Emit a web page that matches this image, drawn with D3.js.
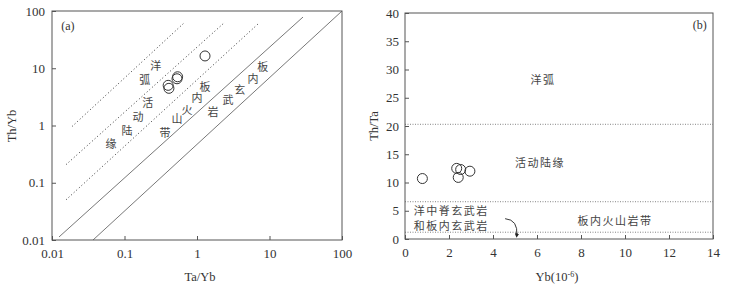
<!DOCTYPE html>
<html>
<head>
<meta charset="utf-8">
<script src="https://cdn.jsdelivr.net/npm/d3@7"></script>
<style>
  body { margin: 0; background: #fff; }
  text { font-family: "Liberation Serif", "Times New Roman", serif; fill: #333; }
</style>
</head>
<body>
<svg id="chart" width="733" height="287"></svg>
<script>
// panel (a): Th/Yb vs Ta/Yb
var taYb = [1.29, 0.54, 0.53, 0.41, 0.40];
var thYb = [16.4, 7.1, 6.55, 4.46, 5.03];
var logTicks = [0.01, 0.1, 1, 10, 100];
var logTickLabels = ["0.01", "0.1", "1", "10", "100"];
var solidLines = [
    [[0.0125, 0.0113], [29, 78.5]],
    [[0.0368, 0.01], [100, 100]]
];
var dottedLines = [
    [[0.0189, 0.96], [0.66, 61.5]],
    [[0.0156, 0.207], [2.43, 64]],
    [[0.0156, 0.0503], [7.16, 61.5]]
];
// labels along the field boundaries [x, y, text]
var labelsA = [
    [0.27, 11.3, "洋"], [0.19, 6.4, "弧"], [0.21, 2.6, "活"],
    [0.154, 1.44, "动"], [0.108, 0.82, "陆"], [0.065, 0.50, "缘"],
    [1.29, 4.83, "板"], [1.0, 3.1, "内"], [0.73, 1.91, "火"],
    [0.53, 1.33, "山"], [0.362, 0.785, "带"],
    [8.1, 10.8, "板"], [5.9, 6.7, "内"], [3.9, 4.3, "玄"],
    [2.68, 2.86, "武"], [1.66, 1.76, "岩"]
];

// panel (b): Th/Ta vs Yb
var yb = [0.79, 2.35, 2.53, 2.95, 2.42];
var thTa = [10.7, 12.5, 12.3, 12.0, 10.9];
var ybTicks = [0, 2, 4, 6, 8, 10, 12, 14];
var thTaTicks = [0, 5, 10, 15, 20, 25, 30, 35, 40];
var boundaries = [20.3, 6.6, 1.2];
var labelsB = [
    [6.27, 28.3, "洋弧"],
    [6.14, 13.6, "活动陆缘"],
    [2.1, 5.15, "洋中脊玄武岩"],
    [2.1, 2.45, "和板内玄武岩"],
    [9.55, 3.4, "板内火山岩带"]
];

var svg = d3.select("#chart");
var grey = "#555";

function styleAxis(g) {
    g.select(".domain").remove();
    g.selectAll(".tick line").attr("stroke", grey);
    g.selectAll(".tick text")
        .style("font-family", "Liberation Serif")
        .style("font-size", "13px")
        .attr("fill", "#333");
}

function cnText(sel) {
    sel.attr("text-anchor", "middle")
        .attr("dominant-baseline", "central")
        .style("font-family", "'Noto Sans CJK SC'")
        .style("font-size", "11px")
        .style("fill", "#444")
        .attr("fill", "#444");
}

// ---------- panel (a) ----------
var xa = d3.scaleLog().domain([0.01, 100]).range([52, 342]);
var ya = d3.scaleLog().domain([0.01, 100]).range([240, 11]);
var fmtA = function(d) { return logTickLabels[logTicks.indexOf(d)]; };

svg.append("g")
    .attr("transform", "translate(0,240)")
    .call(d3.axisBottom(xa).tickValues(logTicks).tickFormat(fmtA).tickSize(-4).tickPadding(9))
    .call(styleAxis);
svg.append("g")
    .attr("transform", "translate(52,0)")
    .call(d3.axisLeft(ya).tickValues(logTicks).tickFormat(fmtA).tickSize(-4).tickPadding(7))
    .call(styleAxis);

var line = d3.line()
    .x(function(d) { return xa(d[0]); })
    .y(function(d) { return ya(d[1]); });

svg.selectAll(".solidA")
    .data(solidLines).enter()
    .append("path")
    .attr("d", line)
    .attr("fill", "none")
    .attr("stroke", grey)
    .attr("stroke-width", 0.8);

svg.selectAll(".dotA")
    .data(dottedLines).enter()
    .append("path")
    .attr("d", line)
    .attr("fill", "none")
    .attr("stroke", "#333")
    .attr("stroke-width", 1)
    .attr("stroke-dasharray", "1,2.5");

svg.append("rect")
    .attr("x", 52).attr("y", 11)
    .attr("width", 290).attr("height", 229)
    .attr("fill", "none").attr("stroke", grey).attr("stroke-width", 1);

svg.selectAll(".labA")
    .data(labelsA).enter()
    .append("text")
    .attr("x", function(d) { return xa(d[0]); })
    .attr("y", function(d) { return ya(d[1]); })
    .call(cnText)
    .text(function(d) { return d[2]; });

svg.selectAll(".ptA")
    .data(taYb).enter()
    .append("circle")
    .attr("cx", function(d) { return xa(d); })
    .attr("cy", function(d, i) { return ya(thYb[i]); })
    .attr("r", 5)
    .attr("fill", "none")
    .attr("stroke", "#333")
    .attr("stroke-width", 1);

svg.append("text")
    .attr("x", xa(0.0166)).attr("y", ya(54.6))
    .attr("text-anchor", "middle").attr("dominant-baseline", "central")
    .style("font-size", "12px")
    .text("(a)");

svg.append("text")
    .attr("x", 200).attr("y", 281)
    .attr("text-anchor", "middle")
    .style("font-size", "12.5px")
    .text("Ta/Yb");
svg.append("text")
    .attr("transform", "translate(16,126) rotate(-90)")
    .attr("text-anchor", "middle")
    .style("font-size", "12.5px")
    .text("Th/Yb");

// ---------- panel (b) ----------
var xb = d3.scaleLinear().domain([0, 14]).range([405, 713]);
var yB = d3.scaleLinear().domain([0, 40]).range([239, 13]);

svg.append("g")
    .attr("transform", "translate(0,239)")
    .call(d3.axisBottom(xb).tickValues(ybTicks).tickSize(-4).tickPadding(9))
    .call(styleAxis);
svg.append("g")
    .attr("transform", "translate(405,0)")
    .call(d3.axisLeft(yB).tickValues(thTaTicks).tickSize(-4).tickPadding(6))
    .call(styleAxis);

svg.selectAll(".bnd")
    .data(boundaries).enter()
    .append("line")
    .attr("x1", xb(0)).attr("x2", xb(14))
    .attr("y1", function(d) { return yB(d); })
    .attr("y2", function(d) { return yB(d); })
    .attr("stroke", "#666")
    .attr("stroke-width", 0.8)
    .attr("stroke-dasharray", "1,1.5");

svg.append("rect")
    .attr("x", 405).attr("y", 13)
    .attr("width", 308).attr("height", 226)
    .attr("fill", "none").attr("stroke", grey).attr("stroke-width", 1);

svg.selectAll(".labB")
    .data(labelsB).enter()
    .append("text")
    .attr("x", function(d) { return xb(d[0]); })
    .attr("y", function(d) { return yB(d[1]); })
    .call(cnText)
    .style("letter-spacing", "1.5px")
    .text(function(d) { return d[2]; });

svg.selectAll(".ptB")
    .data(yb).enter()
    .append("circle")
    .attr("cx", function(d) { return xb(d); })
    .attr("cy", function(d, i) { return yB(thTa[i]); })
    .attr("r", 5)
    .attr("fill", "none")
    .attr("stroke", "#333")
    .attr("stroke-width", 1);

// curved arrow pointing to the lowest field
svg.append("defs").append("marker")
    .attr("id", "head")
    .attr("viewBox", "0 0 10 10")
    .attr("refX", 5).attr("refY", 5)
    .attr("markerWidth", 5).attr("markerHeight", 5)
    .attr("orient", "auto")
    .append("path")
    .attr("d", "M0,0L10,5L0,10z")
    .attr("fill", "#222");
svg.append("path")
    .attr("d", "M" + xb(4.55) + "," + yB(3.6) +
        "Q" + xb(5.15) + "," + yB(3.4) + " " + xb(5.08) + "," + yB(0.6))
    .attr("fill", "none")
    .attr("stroke", "#222")
    .attr("stroke-width", 0.9)
    .attr("marker-end", "url(#head)");

svg.append("text")
    .attr("x", xb(13.4)).attr("y", yB(37.8))
    .attr("text-anchor", "middle").attr("dominant-baseline", "central")
    .style("font-size", "12px")
    .text("(b)");

var xt = svg.append("text")
    .attr("x", 557).attr("y", 281)
    .attr("text-anchor", "middle")
    .style("font-size", "12.5px");
xt.append("tspan").text("Yb(10");
xt.append("tspan").attr("dy", -4).style("font-size", "8px").text("-6");
xt.append("tspan").attr("dy", 4).text(")");

svg.append("text")
    .attr("transform", "translate(378,126) rotate(-90)")
    .attr("text-anchor", "middle")
    .style("font-size", "12.5px")
    .text("Th/Ta");
</script>
</body>
</html>
